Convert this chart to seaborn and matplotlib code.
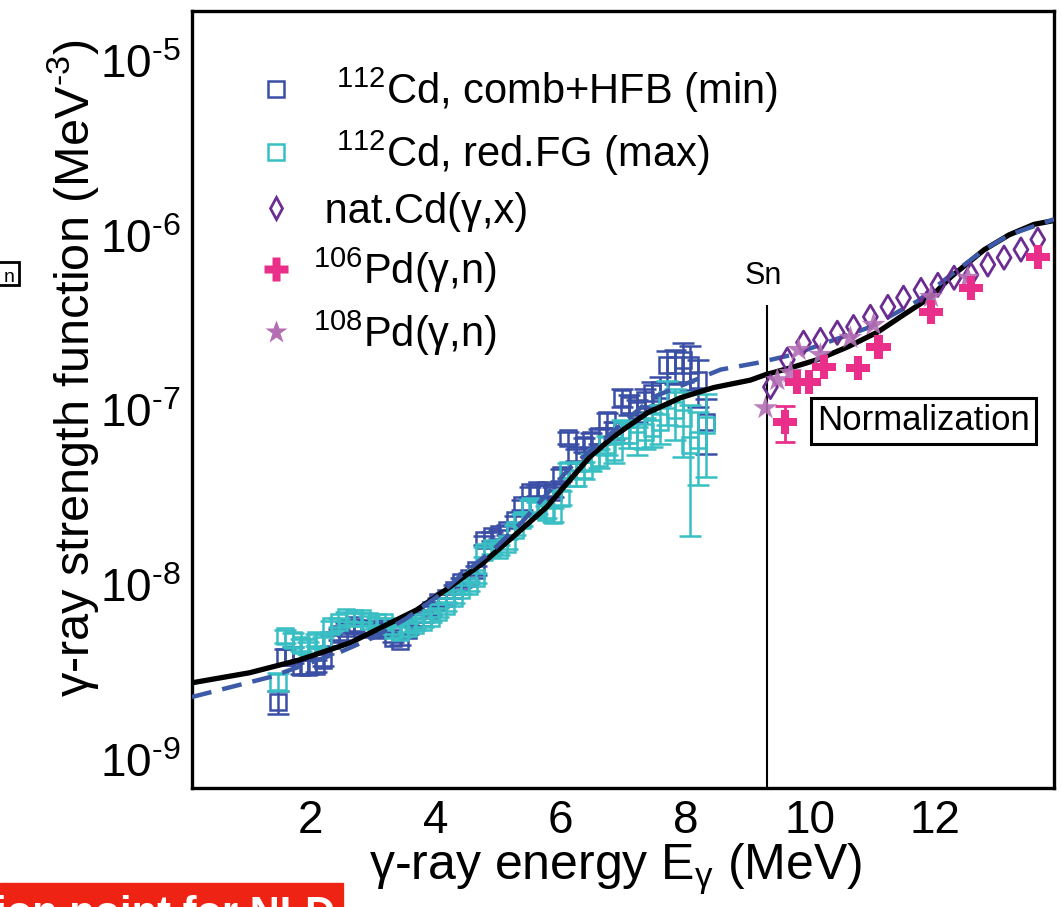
import numpy as np
import pandas as pd
import matplotlib
matplotlib.use('Agg')
import matplotlib.pyplot as plt
import seaborn as sns
from matplotlib.lines import Line2D
from matplotlib.patches import Rectangle
from matplotlib.ticker import FixedLocator, MultipleLocator, LogLocator, NullFormatter

sns.set_style('white')
plt.rcParams['font.family'] = ['Liberation Sans', 'DejaVu Sans']
plt.rcParams['mathtext.fontset'] = 'custom'
plt.rcParams['mathtext.rm'] = 'Liberation Sans'
plt.rcParams['mathtext.it'] = 'Liberation Sans:italic'
plt.rcParams['mathtext.bf'] = 'Liberation Sans:bold'
plt.rcParams['text.color'] = 'black'
plt.rcParams['axes.labelcolor'] = 'black'

## 112Cd Oslo data (two normalisations)
e_cd = [1.47, 1.59, 1.71, 1.84, 1.96, 2.08, 2.20, 2.33, 2.45, 2.57, 2.69, 2.82, 2.94, 3.06,
        3.18, 3.31, 3.43, 3.55, 3.67, 3.80, 3.92, 4.04, 4.16, 4.29, 4.41, 4.53, 4.65, 4.78,
        4.90, 5.02, 5.14, 5.27, 5.39, 5.51, 5.63, 5.76, 5.88, 6.00, 6.12, 6.25, 6.37, 6.49,
        6.61, 6.74, 6.86, 6.98, 7.10, 7.23, 7.35, 7.47, 7.59, 7.71, 7.84, 7.96, 8.08, 8.20, 8.33]
f_min = [2.15e-9, 3.9e-9, 4.0e-9, 3.4e-9, 3.4e-9, 3.45e-9, 3.75e-9, 4.85e-9, 5.25e-9, 5.7e-9,
         5.9e-9, 5.7e-9, 5.6e-9, 5.55e-9, 5.7e-9, 5.0e-9, 4.8e-9, 5.55e-9, 6.15e-9, 6.5e-9,
         7.2e-9, 8.0e-9, 8.45e-9, 9.4e-9, 1.04e-8, 1.10e-8, 1.22e-8, 1.81e-8, 1.91e-8, 1.96e-8,
         2.07e-8, 2.36e-8, 2.88e-8, 3.42e-8, 3.5e-8, 3.5e-8, 3.42e-8, 4.27e-8, 6.96e-8, 5.56e-8,
         6.35e-8, 6.78e-8, 7.15e-8, 8.8e-8, 7.7e-8, 1.18e-7, 1.08e-7, 1.0e-7, 1.15e-7, 1.26e-7,
         1.31e-7, 1.82e-7, 1.82e-7, 1.95e-7, 1.82e-7, 1.49e-7, 8.6e-8]
rel_min = [0.15, 0.10, 0.10, 0.09, 0.09, 0.08, 0.08, 0.07, 0.07, 0.07, 0.07, 0.07, 0.07, 0.07,
           0.06, 0.06, 0.06, 0.06, 0.06, 0.06, 0.06, 0.06, 0.06, 0.06, 0.06, 0.06, 0.06, 0.06,
           0.06, 0.06, 0.06, 0.06, 0.07, 0.07, 0.07, 0.07, 0.07, 0.08, 0.08, 0.08, 0.09, 0.09,
           0.10, 0.10, 0.11, 0.12, 0.13, 0.14, 0.15, 0.16, 0.18, 0.20, 0.22, 0.25, 0.28, 0.30, 0.35]
f_max = [2.8e-9, 5.1e-9, 4.85e-9, 4.55e-9, 4.4e-9, 4.85e-9, 4.7e-9, 5.8e-9, 6.15e-9, 6.6e-9,
         6.5e-9, 6.5e-9, 6.25e-9, 6.15e-9, 6.15e-9, 5.55e-9, 5.4e-9, 5.7e-9, 5.9e-9, 6.15e-9,
         6.5e-9, 7.0e-9, 7.6e-9, 8.45e-9, 9.4e-9, 9.9e-9, 1.10e-8, 1.55e-8, 1.63e-8, 1.59e-8,
         1.72e-8, 2.07e-8, 2.36e-8, 2.84e-8, 2.77e-8, 2.63e-8, 2.53e-8, 3.16e-8, 4.57e-8, 4.11e-8,
         4.57e-8, 5.07e-8, 5.35e-8, 6.35e-8, 5.79e-8, 7.7e-8, 7.24e-8, 6.78e-8, 7.53e-8, 7.94e-8,
         8.6e-8, 1.15e-7, 1.0e-7, 9.06e-8, 6.35e-8, 6.78e-8, 8.26e-8]
rel_max = [0.12, 0.09, 0.09, 0.08, 0.08, 0.08, 0.07, 0.07, 0.06, 0.06, 0.06, 0.06, 0.06, 0.06,
           0.06, 0.06, 0.06, 0.06, 0.06, 0.06, 0.06, 0.06, 0.06, 0.06, 0.06, 0.06, 0.06, 0.07,
           0.07, 0.07, 0.07, 0.07, 0.08, 0.08, 0.08, 0.08, 0.09, 0.09, 0.10, 0.10, 0.11, 0.11,
           0.12, 0.12, 0.14, 0.15, 0.16, 0.18, 0.20, 0.22, 0.25, 0.28, 0.32, 0.40, 0.70, 0.45, 0.50]

## model curves
e_solid = [0.1, 1.02, 1.82, 2.63, 3.70, 4.23, 4.76, 5.24, 5.78, 6.11, 6.47, 6.84, 7.39, 7.92,
           8.45, 9.04, 9.28, 9.68, 10.11, 10.60, 11.08, 11.49, 11.93, 12.25, 12.78, 13.18,
           13.58, 13.9]
f_solid = [2.76e-9, 3.15e-9, 3.73e-9, 4.67e-9, 7.22e-9, 9.77e-9, 1.34e-8, 1.89e-8, 2.80e-8,
           3.85e-8, 5.42e-8, 7.05e-8, 9.68e-8, 1.18e-7, 1.35e-7, 1.49e-7, 1.60e-7, 1.75e-7,
           1.95e-7, 2.31e-7, 2.81e-7, 3.52e-7, 4.46e-7, 5.81e-7, 8.29e-7, 1.01e-6, 1.16e-6,
           1.22e-6]
e_dash = [0.1, 1.37, 2.48, 3.03, 3.52, 4.02, 4.36, 4.92, 5.40, 6.15, 6.59, 7.48, 8.56, 9.15,
          9.71, 10.96, 11.72, 12.25, 12.78, 13.18, 13.9]
f_dash = [2.29e-9, 2.99e-9, 4.15e-9, 5.06e-9, 6.41e-9, 8.57e-9, 1.10e-8, 1.59e-8, 2.33e-8,
          4.69e-8, 6.35e-8, 1.19e-7, 1.71e-7, 1.87e-7, 2.08e-7, 3.0e-7, 4.23e-7, 5.96e-7,
          8.29e-7, 1.01e-6, 1.24e-6]

## photonuclear data
e_nat = [9.36, 9.63, 9.89, 10.16, 10.43, 10.69, 10.96, 11.24, 11.49, 11.77, 12.04, 12.30,
         12.57, 12.84, 13.10, 13.37, 13.64]
f_nat = [1.36e-7, 1.95e-7, 2.44e-7, 2.53e-7, 2.78e-7, 3.0e-7, 3.43e-7, 3.91e-7, 4.41e-7,
         4.89e-7, 5.23e-7, 5.74e-7, 5.97e-7, 6.83e-7, 7.48e-7, 8.32e-7, 9.49e-7]
e_pd106 = [9.60, 9.79, 9.97, 10.21, 10.76, 11.09, 11.93, 12.57, 13.64]
f_pd106 = [8.6e-8, 1.46e-7, 1.46e-7, 1.77e-7, 1.75e-7, 2.31e-7, 3.66e-7, 5.0e-7, 7.58e-7]
err_pd106 = [2.0e-8, 0, 0, 0, 0, 0, 0, 0, 0]
e_pd108 = [9.28, 9.47, 9.68, 9.81, 10.16, 10.64, 11.01, 11.93, 12.52]
f_pd108 = [1.03e-7, 1.49e-7, 1.64e-7, 2.22e-7, 2.08e-7, 2.6e-7, 3.09e-7, 4.46e-7, 5.74e-7]

Sn = 9.3
y_ticks = [1e-9, 1e-8, 1e-7, 1e-6, 1e-5]
y_ticklabels = [r'$\mathregular{10^{\text{-9}}}$', r'$\mathregular{10^{\text{-8}}}$',
                r'$\mathregular{10^{\text{-7}}}$', r'$\mathregular{10^{\text{-6}}}$',
                r'$\mathregular{10^{\text{-5}}}$']
x_ticks = [2, 4, 6, 8, 10, 12]

c_min = '#3b4ea6'
c_max = '#38bfc3'
c_nat = '#6b2d92'
c_106 = '#ea2f8b'
c_108 = '#b46fb4'
c_dash = '#3d5aa8'

fig = plt.figure(figsize=(10.62, 9.07), dpi=100)
ax = fig.add_axes([0.1808, 0.1312, 0.8117, 0.8567])

# squares with error bars
ax.errorbar(e_cd, f_min, yerr=np.array(rel_min) * np.array(f_min), fmt='s', ms=12, mfc='none',
            mec=c_min, mew=1.8, ecolor=c_min, elinewidth=1.8, capsize=8, capthick=1.8, zorder=2)
ax.errorbar(e_cd, f_max, yerr=np.array(rel_max) * np.array(f_max), fmt='s', ms=12, mfc='none',
            mec=c_max, mew=1.8, ecolor=c_max, elinewidth=1.8, capsize=8, capthick=1.8, zorder=3)

# model curves
sns.lineplot(x=e_solid, y=f_solid, ax=ax, color='black', lw=3.8, sort=False, estimator=None, zorder=4)
sns.lineplot(x=e_dash, y=f_dash, ax=ax, color=c_dash, lw=3.2, sort=False, estimator=None, zorder=5)
ax.lines[-1].set_dashes([4.5, 2.5])

# (g,x) / (g,n) data
sns.scatterplot(x=e_nat, y=f_nat, ax=ax, marker='d', s=140, facecolors='none', edgecolors=c_nat,
                linewidth=2.0, zorder=6)
ax.errorbar(e_pd106, f_pd106, yerr=err_pd106, fmt='none', ecolor=c_106, elinewidth=2, capsize=7,
            capthick=2, zorder=6)
sns.scatterplot(x=e_pd106, y=f_pd106, ax=ax, marker='P', s=300, color=c_106, edgecolor='none', zorder=7)
sns.scatterplot(x=e_pd108, y=f_pd108, ax=ax, marker='*', s=330, color=c_108, edgecolor='none',
                alpha=0.9, zorder=6)

ax.vlines(Sn, 6.9e-10, 4.0e-7, color='black', lw=1.5, zorder=1)
ax.text(Sn - 0.05, 5.3e-7, 'Sn', ha='center', va='baseline', fontsize=22, color='black')
ax.text(11.81, 8.7e-8, 'Normalization', ha='center', va='center', fontsize=25, zorder=8,
        color='black', bbox=dict(boxstyle='square,pad=0.18', fc='white', ec='black', lw=2.2))

ax.set_yscale('log')
ax.set_xlim(0.1, 13.9)
ax.set_ylim(6.9e-10, 1.93e-5)
ax.yaxis.set_major_locator(FixedLocator(y_ticks))
ax.set_yticklabels(y_ticklabels)
ax.yaxis.set_minor_locator(LogLocator(base=10, subs=np.arange(2, 10)))
ax.yaxis.set_minor_formatter(NullFormatter())
ax.set_xticks(x_ticks)
ax.xaxis.set_minor_locator(MultipleLocator(0.5))
ax.tick_params(which='both', direction='in', width=2.2, colors='black', labelsize=33)
ax.tick_params(which='major', length=17, pad=8)
ax.tick_params(which='minor', length=8.5)
ax.tick_params(top=False, right=False)
for s in ax.spines.values():
    s.set_linewidth(2.4)
    s.set_color('black')

ax.set_xlabel(r'γ-ray energy E$_{\mathregular{γ}}$ (MeV)', fontsize=36, color='black')
ax.xaxis.set_label_coords(0.491, -0.07)
ax.xaxis.label.set_va('top')
ax.set_ylabel(r'γ-ray strength function (MeV$^{\text{-3}}$)', fontsize=35, color='black')
ax.yaxis.set_label_coords(-0.106, 0.54)

handles = [
    Line2D([], [], ls='none', marker='s', ms=12, mfc='none', mec=c_min, mew=1.8),
    Line2D([], [], ls='none', marker='s', ms=12, mfc='none', mec=c_max, mew=1.8),
    Line2D([], [], ls='none', marker='d', ms=11, mfc='none', mec=c_nat, mew=2.0),
    Line2D([], [], ls='none', marker='P', ms=17, mfc=c_106, mec='none'),
    Line2D([], [], ls='none', marker='*', ms=17, mfc=c_108, mec='none'),
]
labels = [r'  $^{\mathregular{112}}$Cd, comb+HFB (min)',
          r'  $^{\mathregular{112}}$Cd, red.FG (max)',
          ' nat.Cd(γ,x)',
          r'$^{\mathregular{106}}$Pd(γ,n)',
          r'$^{\mathregular{108}}$Pd(γ,n)']
leg = ax.legend(handles, labels, loc='upper left', bbox_to_anchor=(0.073, 0.93), frameon=False,
                fontsize=30, handlelength=1.0, handletextpad=0.4, labelspacing=0.33,
                borderpad=0, borderaxespad=0)
for t in leg.get_texts():
    t.set_color('black')

# slide leftovers around the crop
fig.add_artist(Rectangle((0, 0), 343 / 1062, 24 / 907, transform=fig.transFigure,
                         color='#ee2314', zorder=10))
fig.text(335 / 1062, -19 / 907, 'Normalization point for NLD', ha='right', va='baseline',
         color='white', fontsize=30, fontweight='bold', zorder=11)
fig.add_artist(Rectangle((-0.01, 622 / 907), 0.028, 23 / 907, transform=fig.transFigure,
                         fill=False, lw=2, ec='black'))
fig.text(15 / 1062, 625 / 907, 'n', ha='right', va='baseline', fontsize=14, color='black')

plt.savefig('out.png', dpi=100)
